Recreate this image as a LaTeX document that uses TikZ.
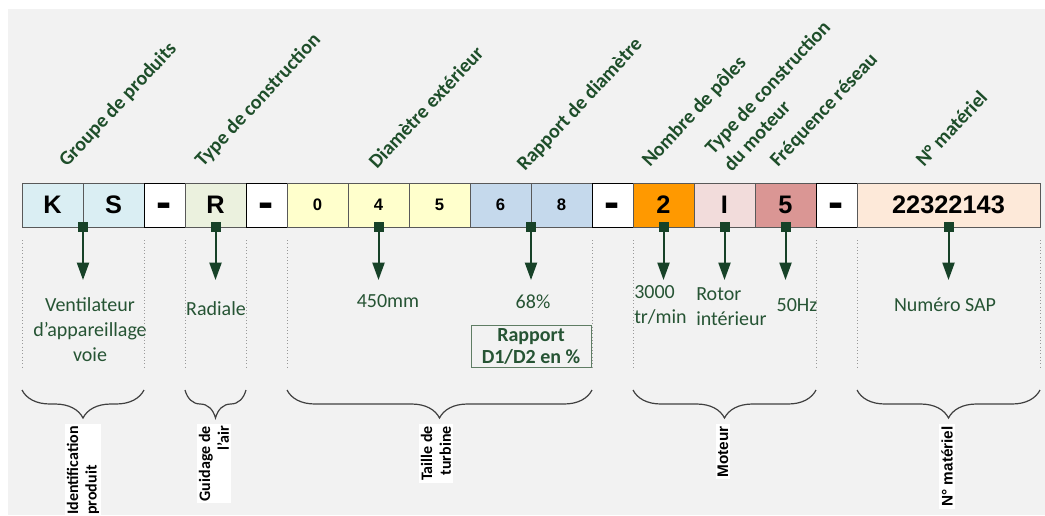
\documentclass[tikz,border=0pt]{standalone}
\usepackage{fontspec}
\setmainfont{Carlito}
\newfontfamily\arialfont{Liberation Sans}
\usetikzlibrary{positioning, arrows.meta, decorations.pathreplacing}

\definecolor{bggray}{HTML}{F2F2F2}
\definecolor{ksblue}{HTML}{DAEEF3}
\definecolor{rgreen}{HTML}{EBF1DE}
\definecolor{dyellow}{HTML}{FFFFCC}
\definecolor{rblue}{HTML}{C5D9EC}
\definecolor{porange}{HTML}{FF9900}
\definecolor{mpink}{HTML}{F2DCDB}
\definecolor{frose}{HTML}{DA9694}
\definecolor{snpeach}{HTML}{FDE9D9}
\definecolor{dkgreen}{RGB}{23,66,40}
\definecolor{hdgreen}{RGB}{30,78,42}
\definecolor{txtgreen}{RGB}{38,84,52}
\definecolor{boxgreen}{RGB}{95,125,100}

\begin{document}
\begin{tikzpicture}[x=0.75pt, y=-0.75pt]
\tikzset{cell/.style = {draw=black!65, line width=0.75pt, minimum height=33pt, minimum width=45.75pt, inner sep=0pt, outer sep=0pt, font=\arialfont\bfseries\fontsize{19}{19}\selectfont}}
\tikzset{digit/.style = {cell, font=\arialfont\bfseries\fontsize{12.5}{12.5}\selectfont}}
\tikzset{dashcell/.style = {cell, fill=white, draw=black, minimum width=30.75pt, text height=18.5pt, text depth=0pt, font=\arialfont\bfseries\fontsize{34}{34}\selectfont}}
\tikzset{marker/.style = {fill=dkgreen, minimum size=7.5pt, inner sep=0pt}}
\tikzset{pointer/.style = {-{Triangle[width=9pt, length=13pt]}, dkgreen, line width=1.5pt}}
\tikzset{heading/.style = {rotate=47, anchor=base west, inner sep=0pt, text=hdgreen, font=\bfseries\fontsize{15}{19}\selectfont}}
\tikzset{value/.style = {inner sep=0pt, text=txtgreen, font=\fontsize{15}{19}\selectfont}}
\tikzset{guide/.style = {dotted, black!40, line width=0.5pt}}
\tikzset{group/.style = {decorate, decoration={brace, mirror, amplitude=21pt}, black!75, line width=0.9pt}}
\tikzset{grouplabel/.style = {rotate=90, anchor=east, fill=white, inner sep=1.5pt, font=\bfseries\fontsize{12}{14}\selectfont}}

\useasboundingbox (0,0) rectangle (1045,515);
\fill[bggray] (8,9) rectangle (1045,515);

% code cells
\node[cell, fill=ksblue, anchor=west] (k) at (22,205) {K};
\node[cell, fill=ksblue, right=0pt of k] (s) {S};
\node[dashcell, right=0pt of s] (d1) {-};
\node[cell, fill=rgreen, right=0pt of d1] (r) {R};
\node[dashcell, right=0pt of r] (d2) {-};
\node[digit, fill=dyellow, right=0pt of d2] (c0) {0};
\node[digit, fill=dyellow, right=0pt of c0] (c4) {4};
\node[digit, fill=dyellow, right=0pt of c4] (c5) {5};
\node[digit, fill=rblue, right=0pt of c5] (c6) {6};
\node[digit, fill=rblue, right=0pt of c6] (c8) {8};
\node[dashcell, right=0pt of c8] (d3) {-};
\node[cell, fill=porange, right=0pt of d3] (p2) {2};
\node[cell, fill=mpink, right=0pt of p2] (mi) {I};
\node[cell, fill=frose, right=0pt of mi] (f5) {5};
\node[dashcell, right=0pt of f5] (d4) {-};
\node[cell, fill=snpeach, minimum width=137.25pt, right=0pt of d4] (sn) {22322143};

% headings
\node[heading] (hgroupe) at (67,168) {Groupe de produits};
\node[heading] (htype) at (203,168) {Type de construction};
\node[heading] (hdiam) at (377,170) {Diamètre extérieur};
\node[heading] (hrapport) at (525,172) {Rapport de diamètre};
\node[heading] (hpoles) at (650,168) {Nombre de pôles};
\node[heading, anchor=south west, align=left] (hmoteur) at (732,173) {Type de construction\\du moteur};
\node[heading] (hfreq) at (778,168) {Fréquence réseau};
\node[heading] (hsap) at (924,168) {N° matériel};

% markers and pointers
\node[marker] (mk1) at (k.south east) {};
\node[marker] (mk2) at (r.south) {};
\node[marker] (mk3) at (c4.south) {};
\node[marker] (mk4) at (c6.south east) {};
\node[marker] (mk5) at (p2.south) {};
\node[marker] (mk6) at (mi.south) {};
\node[marker] (mk7) at (f5.south) {};
\node[marker] (mk8) at (sn.south) {};
\foreach \m in {1,...,8}{
  \coordinate (tp\m) at (mk\m |- 0,280);
  \draw[pointer] (mk\m) -- (tp\m);
}

% values
\node[value, anchor=north, align=center] (vvent) at (90,297) {Ventilateur\\d’appareillage\\voie};
\node[value, anchor=north] (vradial) at (216,301) {Radiale};
\node[value, anchor=north] (vdiam) at (388,294) {450mm};
\node[value, anchor=north] (vratio) at (533,295) {68\%};
\node[draw=boxgreen, line width=0.75pt, minimum width=90pt, minimum height=32pt, inner sep=1pt, align=center, text=txtgreen, font=\bfseries\fontsize{15}{17}\selectfont] (vratiobox) at (531,346.5) {Rapport\\D1/D2 en \%};
\node[value, anchor=north west, align=left] (vpoles) at (634,285) {3000\\tr/min};
\node[value, anchor=north west, align=left] (vrotor) at (696,287) {Rotor\\intérieur};
\node[value, anchor=north] (vfreq) at (797,298) {50Hz};
\node[value, anchor=north] (vsap) at (945,298) {Numéro SAP};

% dotted guides
\foreach \g in {k.south west, s.south east, r.south west, r.south east, c0.south west, c8.south east, p2.south west, f5.south east, sn.south west, sn.south east}
  \draw[guide] (\g |- 0,240) -- (\g |- 0,367);

% groups
\draw[group] (k.south west |- 0,390) -- (s.south east |- 0,390);
\draw[group] (r.south west |- 0,390) -- (r.south east |- 0,390);
\draw[group] (c0.south west |- 0,390) -- (c8.south east |- 0,390);
\draw[group] (p2.south west |- 0,390) -- (f5.south east |- 0,390);
\draw[group] (sn.south west |- 0,390) -- (sn.south east |- 0,390);
\node[grouplabel, align=left] (lident) at (83,424) {Identification\\produit};
\node[grouplabel, align=right] (lguide) at (214,424) {Guidage de\\l’air};
\node[grouplabel, align=right] (ltaille) at (436,424) {Taille de\\turbine};
\node[grouplabel, font=\arialfont\bfseries\fontsize{11.5}{13}\selectfont] (lmoteur) at (723,424) {Moteur};
\node[grouplabel, font=\arialfont\bfseries\fontsize{11.5}{13}\selectfont] (lsap) at (947,424) {N° matériel};
\end{tikzpicture}
\end{document}
